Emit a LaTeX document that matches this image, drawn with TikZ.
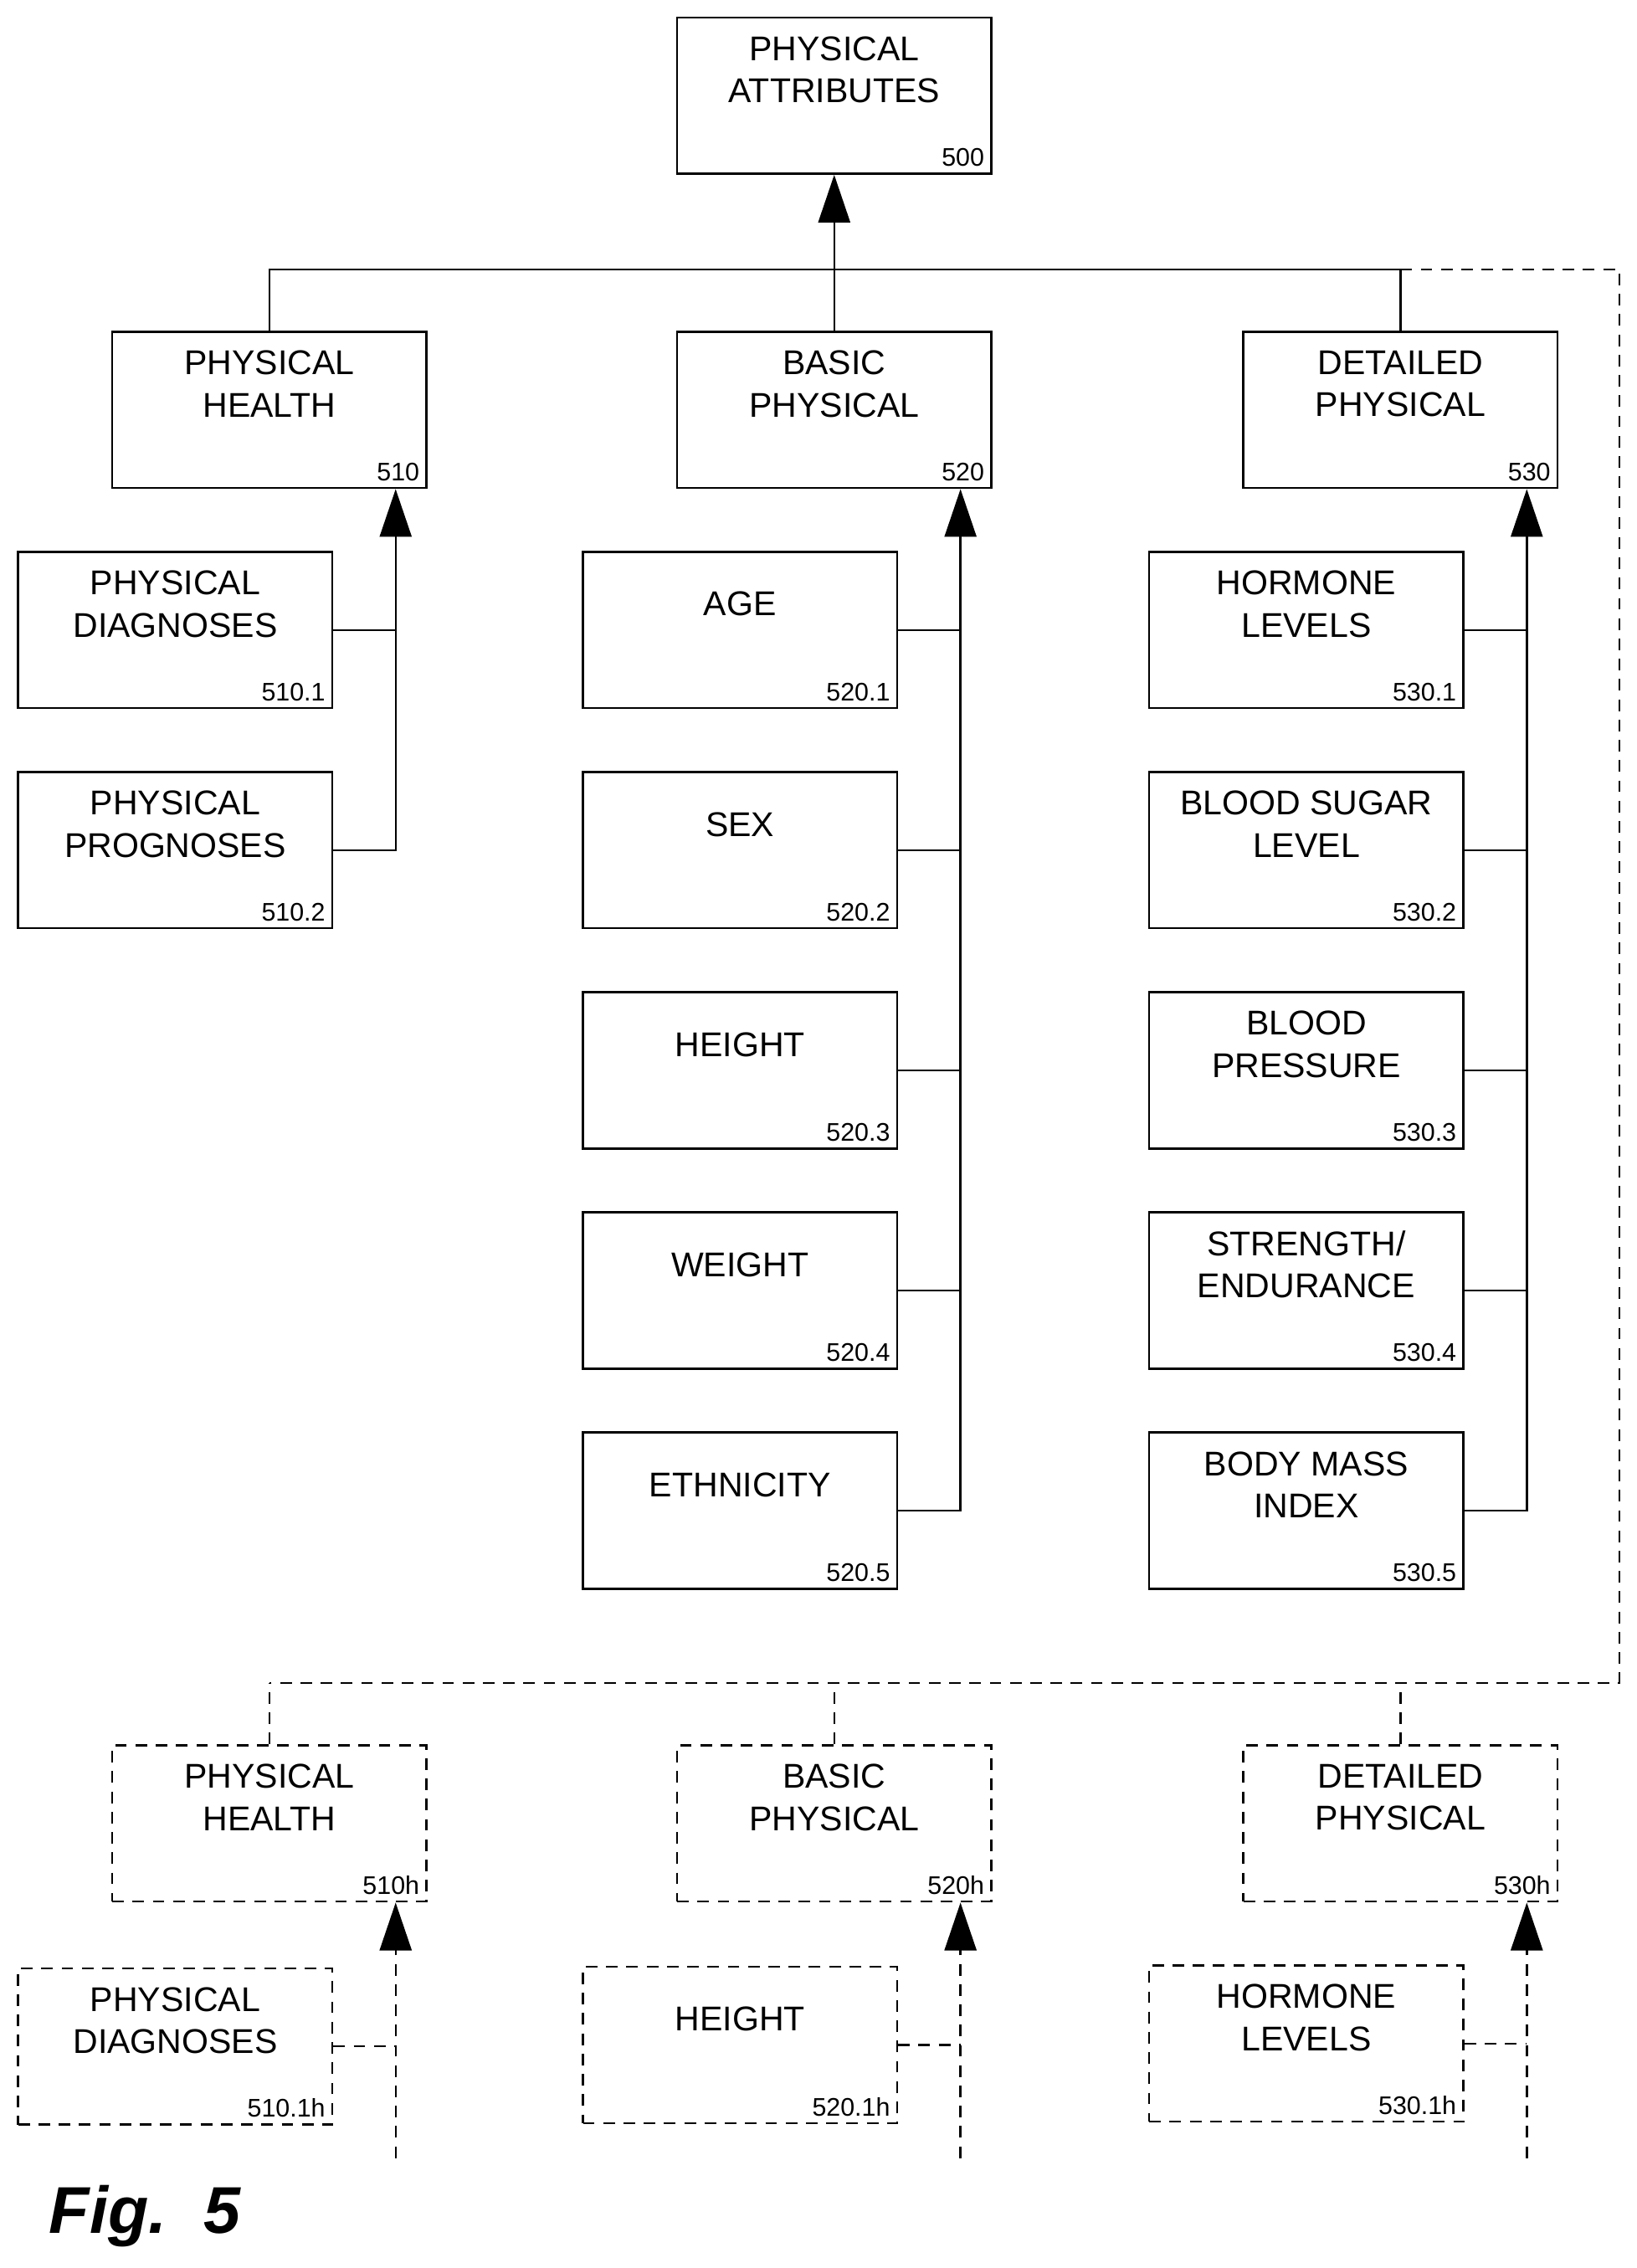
\documentclass[tikz,border=0pt]{standalone}
\usepackage{fontspec}
\setmainfont{Liberation Sans}
\usetikzlibrary{arrows.meta,positioning}

\begin{document}
\begin{tikzpicture}
	[
	 x=0.02cm, y=-0.02cm,
	 %Styles
	 box/.style={rectangle,draw=black,thick,minimum width=4.34cm,minimum height=2.16cm,
	   align=center,font=\fontsize{13.5}{16.5}\selectfont,inner sep=0pt},
	 hbox/.style={box,dashed,dash pattern=on 0.16cm off 0.12cm},
	 num/.style={font=\fontsize{10}{11}\selectfont,anchor=south east,inner sep=3pt},
	 link/.style={thick},
	 hlink/.style={thick,dash pattern=on 0.16cm off 0.12cm},
	 up/.style={-{Triangle[width=0.44cm,length=0.66cm]}}
	]
	\useasboundingbox (0,0) rectangle (1130,1566);

	%Top
	\node (pa) [box] at (576,66) {PHYSICAL\\ATTRIBUTES\\[4pt]};
	\node [num] at (pa.south east) {500};
	\node (ph) [box] at (186,283) {PHYSICAL\\HEALTH\\[4pt]};
	\node [num] at (ph.south east) {510};
	\node (bp) [box] at (576,283) {BASIC\\PHYSICAL\\[4pt]};
	\node [num] at (bp.south east) {520};
	\node (dp) [box] at (967,283) {DETAILED\\PHYSICAL\\[4pt]};
	\node [num] at (dp.south east) {530};

	\coordinate (bus) at (576,186);
	\draw[link,up] (bus) -- (pa.south);
	\draw[link] (ph.north) |- (bus) -| (bp.north);
	\draw[link] (bus) -| (dp.north);
	\coordinate (corner) at (1118,186);
	\coordinate (hbus) at (576,1162);
	\draw[hlink] (dp.north |- bus) -- (corner) -- (1118,1162) -- (186,1162);

	%Physical health
	\node (pdg) [box] at (121,435) {PHYSICAL\\DIAGNOSES\\[4pt]};
	\node [num] at (pdg.south east) {510.1};
	\node (ppg) [box] at (121,587) {PHYSICAL\\PROGNOSES\\[4pt]};
	\node [num] at (ppg.south east) {510.2};
	\draw[link,up] (ppg.east) -| ([xshift=-0.44cm]ph.south east);
	\draw[link] (pdg.east) -- ++(43,0);

	%Basic physical
	\foreach \t/\n [count=\i] in {AGE/1,SEX/2,HEIGHT/3,WEIGHT/4,ETHNICITY/5}{
	  \node (b\i) [box] at (511,283+152*\i) {\t\\[4pt]};
	  \node [num] at (b\i.south east) {520.\n};
	  \draw[link] (b\i.east) -- ++(43,0);
	}
	\draw[link,up] (b5.east) -| ([xshift=-0.44cm]bp.south east);

	%Detailed physical
	\foreach \t/\n [count=\i] in {{HORMONE\\LEVELS}/1,{BLOOD SUGAR\\LEVEL}/2,{BLOOD\\PRESSURE}/3,{STRENGTH/\\ENDURANCE}/4,{BODY MASS\\INDEX}/5}{
	  \node (d\i) [box] at (902,283+152*\i) {\t\\[4pt]};
	  \node [num] at (d\i.south east) {530.\n};
	  \draw[link] (d\i.east) -- ++(43,0);
	}
	\draw[link,up] (d5.east) -| ([xshift=-0.44cm]dp.south east);

	%Hypothetical
	\node (phh) [hbox] at (186,1259) {PHYSICAL\\HEALTH\\[4pt]};
	\node [num] at (phh.south east) {510h};
	\node (bph) [hbox] at (576,1259) {BASIC\\PHYSICAL\\[4pt]};
	\node [num] at (bph.south east) {520h};
	\node (dph) [hbox] at (967,1259) {DETAILED\\PHYSICAL\\[4pt]};
	\node [num] at (dph.south east) {530h};
	\foreach \h in {phh,bph,dph}
	  \draw[hlink] (\h.north) -- (\h.north |- hbus);

	\node (pdh) [hbox] at (121,1413) {PHYSICAL\\DIAGNOSES\\[4pt]};
	\node [num] at (pdh.south east) {510.1h};
	\node (hgh) [hbox] at (511,1412) {HEIGHT\\[4pt]};
	\node [num] at (hgh.south east) {520.1h};
	\node (hlh) [hbox] at (902,1411) {HORMONE\\LEVELS\\[4pt]};
	\node [num] at (hlh.south east) {530.1h};
	\foreach \c/\p in {pdh/phh,hgh/bph,hlh/dph}{
	  \coordinate (t\c) at ([xshift=-0.44cm]\p.south east);
	  \draw[hlink,up] (t\c |- 0,1490) -- (t\c);
	  \draw[hlink] (\c.east) -- (\c.east -| t\c);
	}

	\node (fig) at (100,1530) {\fontsize{26}{30}\selectfont\bfseries\itshape Fig.\ \ 5};
\end{tikzpicture}
\end{document}
